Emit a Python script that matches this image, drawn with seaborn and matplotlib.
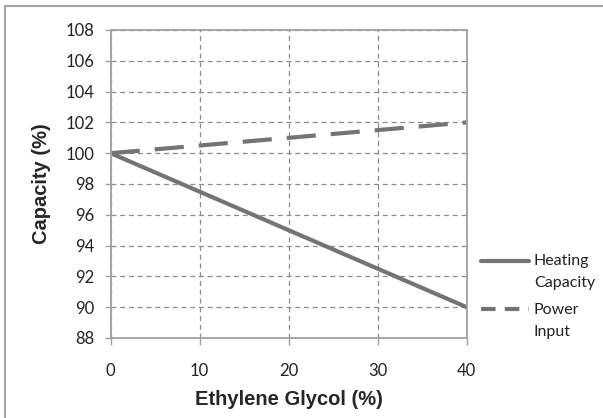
import numpy as np
import pandas as pd
import matplotlib
matplotlib.use("Agg")
import matplotlib.pyplot as plt
import seaborn as sns
from matplotlib.legend_handler import HandlerLine2D
from matplotlib.patches import Rectangle

glycol = [0, 10, 20, 30, 40]
heating_capacity = [100, 97.5, 95, 92.5, 90]
power_input = [100, 100.5, 101, 101.5, 102]
y_ticks = list(range(88, 110, 2))
x_ticks = [0, 10, 20, 30, 40]

df = pd.DataFrame({
    "glycol": glycol * 2,
    "value": heating_capacity + power_input,
    "series": ["Heating\nCapacity"] * 5 + ["Power\nInput"] * 5,
})

sns.set_style("white")
plt.rcParams["font.family"] = ["Lato", "DejaVu Sans"]

line_col = "#747474"
axis_col = "#a0a0a0"

fig = plt.figure(figsize=(6.03, 4.18), dpi=100)
ax = fig.add_axes([110.7 / 603, 1 - 338 / 418, (466.7 - 110.7) / 603, (338 - 30) / 418])

sns.lineplot(data=df, x="glycol", y="value", style="series", ax=ax,
             color=line_col, linewidth=3, dashes=[(None, None), (7, 3.6)],
             legend=False)

ax.set_xlim(0, 40)
ax.set_ylim(88, 108)
ax.set_xticks(x_ticks)
ax.set_yticks(y_ticks)
ax.grid(True, linestyle=(0, (4, 3)), color="#8c8c8c", linewidth=0.9)
ax.set_axisbelow(True)
for s in ax.spines.values():
    s.set_color(axis_col)
    s.set_linewidth(1.3)
ax.tick_params(axis="y", direction="out", length=4, width=1, color=axis_col,
               pad=8, labelsize=12, labelcolor="#222222", left=True)
ax.tick_params(axis="x", direction="out", length=5, width=1, color=axis_col,
               pad=13, labelsize=12, labelcolor="#222222", bottom=True)

ax.set_xlabel("Ethylene Glycol (%)", fontsize=14.5, fontweight="bold",
              family="Liberation Sans", labelpad=8)
ax.set_ylabel("Capacity (%)", fontsize=14.5, fontweight="bold",
              family="Liberation Sans", labelpad=10)


class TopHandler(HandlerLine2D):
    def create_artists(self, legend, orig_handle, xdescent, ydescent,
                       width, height, fontsize, trans):
        arts = super().create_artists(legend, orig_handle, xdescent, ydescent,
                                      width, height, fontsize, trans)
        for a in arts:
            a.set_ydata(np.asarray(a.get_ydata()) + 8.3)
            a.set_dashes((3.5, 2.2)) if a.get_linestyle() != "-" else None
        return arts


handles = ax.get_lines()[:2]
leg = ax.legend(handles, ["Heating\nCapacity", "Power\nInput"],
                loc="center left", bbox_to_anchor=(1.0, 0.135), frameon=False,
                fontsize=11.5, handlelength=3.0, handletextpad=0.3,
                labelspacing=0.8, labelcolor="#222222",
                handler_map={h: TopHandler() for h in handles})
for t in leg.get_texts():
    t.set_linespacing(1.7)

fig.patches.append(Rectangle((5 / 603, -0.5), 2, 1 - 6 / 418 + 0.5,
                             transform=fig.transFigure, fill=False,
                             edgecolor="#a6a6a6", linewidth=1.5))

fig.savefig("out.png", dpi=100)
